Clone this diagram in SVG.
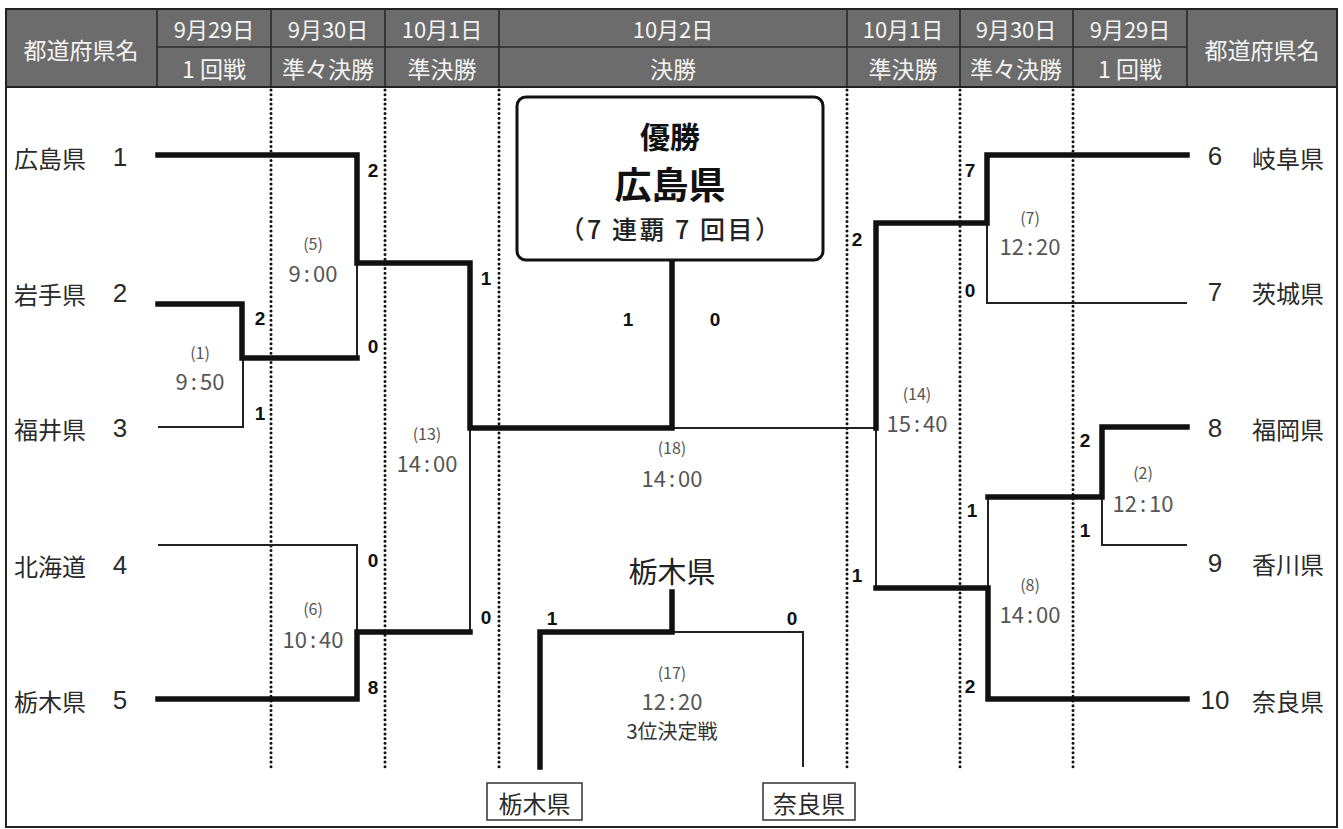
<svg xmlns="http://www.w3.org/2000/svg" width="1343" height="829" viewBox="0 0 1343 829">
<style>
text{font-family:"Noto Sans CJK JP","Liberation Sans",sans-serif;}
.hd{fill:#f4f4f4;font-size:22px;text-anchor:middle;dominant-baseline:central;}
.hd2{fill:#f4f4f4;font-size:23px;text-anchor:middle;dominant-baseline:central;}
.team{fill:#2a2a2a;font-size:24px;dominant-baseline:central;}
.num{fill:#2a2a2a;font-size:26px;text-anchor:middle;dominant-baseline:central;font-family:"Liberation Sans","Noto Sans CJK JP",sans-serif;}
.sc{fill:#111;font-size:19px;font-weight:bold;text-anchor:middle;dominant-baseline:central;font-family:"Liberation Sans",sans-serif;}
.mno{fill:#555;font-size:16px;text-anchor:middle;dominant-baseline:central;}
.tm{fill:#555;font-size:22px;text-anchor:middle;dominant-baseline:central;}
.thick{fill:none;stroke:#111;stroke-width:5.5;stroke-linejoin:miter;stroke-linecap:square;}
.thin{fill:none;stroke:#222;stroke-width:2;}
.dot{fill:none;stroke:#111;stroke-width:3;stroke-dasharray:0 4.7;stroke-linecap:round;}
.sep{stroke:#2a2a2a;stroke-width:1.6;}
</style>

<g id="frame">
<rect x="6" y="9" width="1331" height="78" fill="#6c6c6c"/>
<rect x="6" y="9" width="1331" height="818" fill="none" stroke="#222" stroke-width="2"/>
<line class="sep" x1="157" y1="47" x2="1187" y2="47"/>
<line class="sep" x1="157" y1="9" x2="157" y2="87"/>
<line class="sep" x1="271" y1="9" x2="271" y2="87"/>
<line class="sep" x1="385" y1="9" x2="385" y2="87"/>
<line class="sep" x1="499" y1="9" x2="499" y2="87"/>
<line class="sep" x1="847" y1="9" x2="847" y2="87"/>
<line class="sep" x1="960" y1="9" x2="960" y2="87"/>
<line class="sep" x1="1073" y1="9" x2="1073" y2="87"/>
<line class="sep" x1="1187" y1="9" x2="1187" y2="87"/>
<line x1="6" y1="87" x2="1337" y2="87" stroke="#222" stroke-width="2"/>
</g>

<g id="header">
<text class="hd2" x="81" y="49" font-size="24">都道府県名</text>
<text class="hd" x="214" y="28">9月29日</text>
<text class="hd2" x="214" y="68">1 回戦</text>
<text class="hd" x="328" y="28">9月30日</text>
<text class="hd2" x="328" y="68">準々決勝</text>
<text class="hd" x="442" y="28">10月1日</text>
<text class="hd2" x="442" y="68">準決勝</text>
<text class="hd" x="673" y="28">10月2日</text>
<text class="hd2" x="673" y="68">決勝</text>
<text class="hd" x="903" y="28">10月1日</text>
<text class="hd2" x="903" y="68">準決勝</text>
<text class="hd" x="1016" y="28">9月30日</text>
<text class="hd2" x="1016" y="68">準々決勝</text>
<text class="hd" x="1130" y="28">9月29日</text>
<text class="hd2" x="1130" y="68">1 回戦</text>
<text class="hd2" x="1262" y="49" font-size="24">都道府県名</text>
</g>

<g id="dotted-guides">
<line class="dot" x1="271" y1="90" x2="271" y2="767"/>
<line class="dot" x1="385" y1="90" x2="385" y2="767"/>
<line class="dot" x1="499" y1="90" x2="499" y2="767"/>
<line class="dot" x1="847" y1="90" x2="847" y2="767"/>
<line class="dot" x1="960" y1="90" x2="960" y2="767"/>
<line class="dot" x1="1073" y1="90" x2="1073" y2="767"/>
</g>

<g id="connectors">
<path class="thin" d="M158,427 H243 V358"/>
<path class="thin" d="M357,263 V358"/>
<path class="thin" d="M158,545 H357 V632"/>
<path class="thin" d="M470,428 V632"/>
<path class="thin" d="M672,428 H876"/>
<path class="thin" d="M987,223 V303 H1187"/>
<path class="thin" d="M1102,497 V545 H1187"/>
<path class="thin" d="M988,497 V588"/>
<path class="thin" d="M876,428 V588"/>
<path class="thin" d="M672,632 H803 V767"/>
<path class="thick" d="M158,155 H357 V263 H470 V428 H672 V262"/>
<path class="thick" d="M158,304 H242 V358 H357"/>
<path class="thick" d="M158,699 H357 V632 H470"/>
<path class="thick" d="M1187,155 H987 V223 H876 V428"/>
<path class="thick" d="M1187,427 H1102 V497 H988"/>
<path class="thick" d="M1187,699 H988 V588 H876"/>
<path class="thick" d="M672,592 V632 H540 V767"/>
</g>

<g id="team-1"><text class="team" x="14" y="157">広島県</text><text class="num" x="120" y="157">1</text></g>
<g id="team-2"><text class="team" x="14" y="293">岩手県</text><text class="num" x="120" y="293">2</text></g>
<g id="team-3"><text class="team" x="14" y="428">福井県</text><text class="num" x="120" y="428">3</text></g>
<g id="team-4"><text class="team" x="14" y="565">北海道</text><text class="num" x="120" y="565">4</text></g>
<g id="team-5"><text class="team" x="14" y="700">栃木県</text><text class="num" x="120" y="700">5</text></g>
<g id="team-6"><text class="num" x="1215" y="156">6</text><text class="team" x="1252" y="157">岐阜県</text></g>
<g id="team-7"><text class="num" x="1215" y="292">7</text><text class="team" x="1252" y="292">茨城県</text></g>
<g id="team-8"><text class="num" x="1215" y="428">8</text><text class="team" x="1252" y="428">福岡県</text></g>
<g id="team-9"><text class="num" x="1215" y="563">9</text><text class="team" x="1252" y="563">香川県</text></g>
<g id="team-10"><text class="num" x="1215" y="700">10</text><text class="team" x="1252" y="700">奈良県</text></g>

<g id="match-1"><text class="mno" x="200" y="352">(1)</text><text class="tm" x="200" y="380">9<tspan dx="3">:</tspan><tspan dx="3">50</tspan></text><text class="sc" x="260" y="318">2</text><text class="sc" x="260" y="413">1</text></g>
<g id="match-5"><text class="mno" x="313" y="243">(5)</text><text class="tm" x="313" y="272">9<tspan dx="3">:</tspan><tspan dx="3">00</tspan></text><text class="sc" x="373" y="170">2</text><text class="sc" x="373" y="346">0</text></g>
<g id="match-6"><text class="mno" x="313" y="608">(6)</text><text class="tm" x="313" y="638">10<tspan dx="3">:</tspan><tspan dx="3">40</tspan></text><text class="sc" x="373" y="560">0</text><text class="sc" x="373" y="687">8</text></g>
<g id="match-13"><text class="mno" x="427" y="433">(13)</text><text class="tm" x="427" y="462">14<tspan dx="3">:</tspan><tspan dx="3">00</tspan></text><text class="sc" x="486" y="278">1</text><text class="sc" x="486" y="617">0</text></g>
<g id="match-18"><text class="mno" x="672" y="447">(18)</text><text class="tm" x="672" y="477">14<tspan dx="3">:</tspan><tspan dx="3">00</tspan></text><text class="sc" x="628" y="319">1</text><text class="sc" x="715" y="319">0</text></g>
<g id="match-14"><text class="mno" x="917" y="393">(14)</text><text class="tm" x="917" y="422">15<tspan dx="3">:</tspan><tspan dx="3">40</tspan></text><text class="sc" x="857" y="239">2</text><text class="sc" x="857" y="575">1</text></g>
<g id="match-7"><text class="mno" x="1030" y="217">(7)</text><text class="tm" x="1030" y="245">12<tspan dx="3">:</tspan><tspan dx="3">20</tspan></text><text class="sc" x="970" y="170">7</text><text class="sc" x="970" y="290">0</text></g>
<g id="match-8"><text class="mno" x="1030" y="584">(8)</text><text class="tm" x="1030" y="613">14<tspan dx="3">:</tspan><tspan dx="3">00</tspan></text><text class="sc" x="972" y="510">1</text><text class="sc" x="970" y="686">2</text></g>
<g id="match-2"><text class="mno" x="1143" y="472">(2)</text><text class="tm" x="1143" y="502">12<tspan dx="3">:</tspan><tspan dx="3">10</tspan></text><text class="sc" x="1085" y="440">2</text><text class="sc" x="1085" y="530">1</text></g>
<g id="match-17"><text class="mno" x="672" y="672">(17)</text><text class="tm" x="672" y="700">12<tspan dx="3">:</tspan><tspan dx="3">20</tspan></text><text fill="#333" font-size="20" text-anchor="middle" dominant-baseline="central" x="672" y="730">3位決定戦</text><text class="sc" x="552" y="618">1</text><text class="sc" x="792" y="618">0</text></g>

<g id="champion">
<rect x="517" y="97" width="306" height="163" rx="9" fill="#fff" stroke="#111" stroke-width="3"/>
<text x="670" y="135" font-size="30" font-weight="bold" fill="#111" text-anchor="middle" dominant-baseline="central">優勝</text>
<text x="670" y="183" font-size="37" font-weight="bold" fill="#111" text-anchor="middle" dominant-baseline="central">広島県</text>
<text x="671" y="228" font-size="25" font-weight="500" letter-spacing="2.5" fill="#222" text-anchor="middle" dominant-baseline="central">（7 連覇 7 回目）</text>
</g>

<g id="third-place">
<text x="672" y="570" font-size="29" fill="#222" text-anchor="middle" dominant-baseline="central">栃木県</text>
</g>
<g id="third-left">
<rect x="487" y="783" width="95" height="37" fill="#fff" stroke="#333" stroke-width="1.5"/>
<text class="team" x="534.5" y="802" text-anchor="middle">栃木県</text>
</g>
<g id="third-right">
<rect x="763" y="783" width="92" height="37" fill="#fff" stroke="#333" stroke-width="1.5"/>
<text class="team" x="809" y="802" text-anchor="middle">奈良県</text>
</g>
</svg>
